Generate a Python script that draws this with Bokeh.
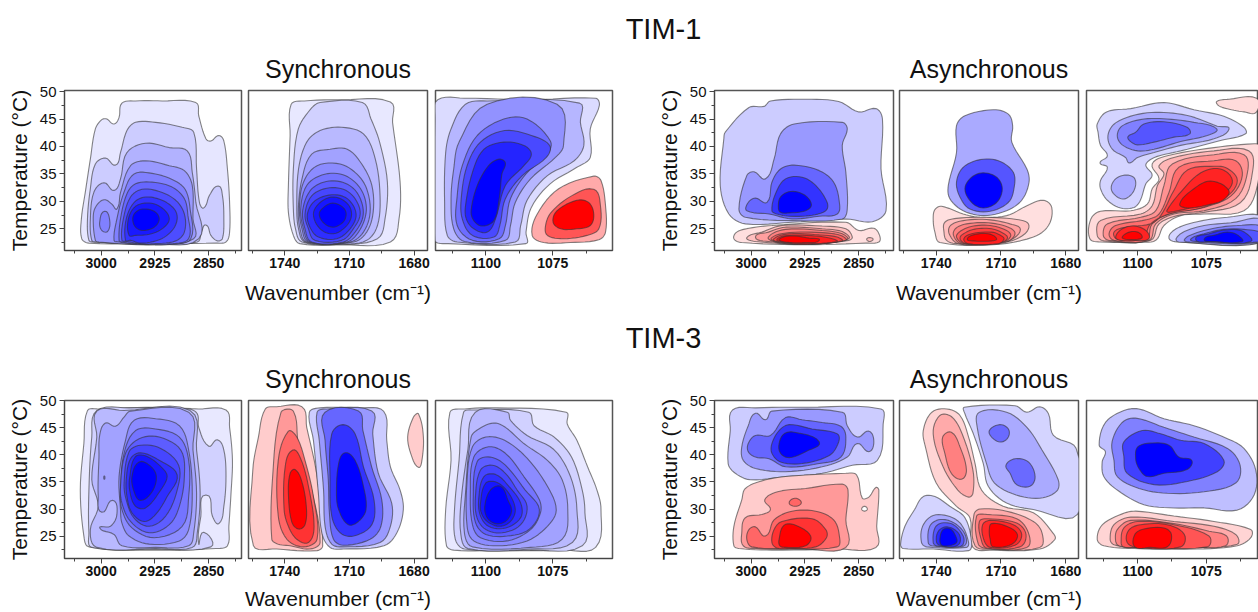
import math
from bokeh.plotting import figure
from bokeh.models import Range1d, FixedTicker, Label, ColumnDataSource
from bokeh.layouts import row, column
from bokeh.embed import file_html
from bokeh.resources import INLINE

FONT = "Liberation Sans"
titles = ["TIM-1", "TIM-3"]
subtitles = ["Synchronous", "Asynchronous"]
x_label = "Wavenumber (cm\u207b\u00b9)"
y_label = "Temperature (\u00b0C)"
ch_ticks = [3000, 2925, 2850]
ch_minor = [3037.5, 2962.5, 2887.5, 2812.5]
co_ticks = [1740, 1710, 1680]
co_minor = [1755, 1725, 1695]
po_ticks = [1100, 1075]
po_minor = [1112.5, 1087.5, 1062.5]
t_ticks = [25, 30, 35, 40, 45, 50]
t_minor = [22.5, 27.5, 32.5, 37.5, 42.5, 47.5]

# Each contour: (level, wavenumbers, temperatures). Negative level = blue, positive = red, 0 = hole.
tim1_sync_ch = [
 (-1,[3027,3027.5,3022,3015,3008,2999,2992,2982,2975,2971,2952,2915,2868,2864,2854,2847,2836,2829,2824,2821,2821,2826,2840,2924,3017],[23.2,26.8,31.7,37.7,43.2,44.9,45,44.1,45.3,47.9,48.3,48.3,48,45.6,41.4,41,42,41,35.9,29.8,24.4,22.6,22.4,22.3,22.4]),
 (-2,[3017,3019,3015,3008,2994,2980,2973,2964,2952,2924,2887,2871,2867,2863,2857,2849,2837,2831,2829,2831,2838,2847,2854,2860,2866,2924,3010],[22.9,26.8,32.3,36.8,37.9,36.6,38.9,42.9,44.4,44.4,43.5,42.6,35.9,29.8,28.8,31.1,32.8,31.1,26.8,23.2,22.8,23.8,25.7,24.4,22.6,22.2,22.6]),
 (-3,[3013,3015,3010,2996,2982,2973,2964,2938,2905,2880,2873,2868,2864,2924,3006],[22.9,26.8,31.7,33.4,32,34.1,38.9,40.6,39.8,39.2,35.3,29.8,23.2,22.2,22.6]),
 (-4,[3008,3011,3008,2996,2985,2978,2973,2959,2938,2905,2884,2873,2872,2871,2924,3003],[22.9,26.8,28.9,30.3,29.5,28.6,31.6,36.5,37.4,36.5,35.6,32.9,26.8,23.2,22.1,22.6]),
 (-5,[3002,2995,2988,2991,2999],[26.2,28.2,26.5,24.5,24.7]),
 (-5,[2982,2978,2968,2954,2929,2901,2883,2876,2875,2900,2950,2975],[22.9,26.8,31.7,35,35.1,34,32.2,28.6,23.2,22.2,22.2,22.6]),
 (-6,[2975,2973,2964,2952,2929,2901,2884,2879,2878,2900,2950,2971],[22.9,26.8,31.4,33.2,33.5,32.6,30.5,27.4,23.2,22.3,22.3,22.6]),
 (-7,[2971,2969,2959,2943,2919,2896,2884,2884,2896,2924,2945,2964],[22.9,26.8,30.8,32.2,31.8,30.2,27.7,24.4,22.8,22.3,22.3,22.7]),
 (-8,[2966,2965,2954,2938,2915,2898,2894,2901,2919,2945,2959],[22.9,26.8,29.8,30.8,30.2,28.6,26.8,24.7,23,22.4,22.9]),
 (-9,[2961,2962,2952,2933,2915,2905,2915,2933,2952],[23.8,26.8,29.1,29.7,28.8,26.8,25,24,23.8]),
 (-10,[2956,2952,2942,2926,2919,2926,2942,2952],[26.8,28,28.6,28.2,26.8,25.3,24.7,25.3]),
]
tim1_sync_co = [
 (-1,[1737,1731,1713,1691,1690,1686.5,1687,1691,1713,1733,1736,1738.3,1738.3,1737.5],[47.7,48.3,48.5,48.1,44.4,33.5,26.8,22.6,22.1,22.3,23.8,28,32.9,42]),
 (-2,[1733.7,1728,1723.6,1704,1700,1696,1692.4,1693.5,1697,1713,1732,1735,1736,1736],[43.2,46.8,48,48,45,40.8,33.5,26.8,23.2,22.2,22.6,25,28.6,35.9]),
 (-3,[1734.4,1733.6,1729.8,1723.6,1713.6,1703.5,1698,1695.8,1697,1702,1713,1730.6,1733.6],[28.6,35.9,40.8,42.9,43.5,42.3,37.7,31,25.6,22.9,22.2,22.6,25]),
 (-4,[1733.7,1732,1727.5,1719,1711,1704.3,1699.6,1699,1702,1708,1729.8,1732.9],[28.6,34.1,38.6,39.5,39.5,36.8,32.9,28,24.4,22.6,22.6,25]),
 (-5,[1733.2,1731.3,1725,1714.3,1706.6,1702,1700.4,1703.5,1709.7,1729,1732],[28.6,33.5,36.5,36.8,35,32.3,28,24.4,22.6,22.6,25]),
 (-6,[1732.6,1729.8,1722.8,1714.3,1707.4,1703.2,1702.3,1705.8,1711.2,1728.2,1731.3],[28.6,32.9,34.8,35,33.5,31,27.8,24.4,22.6,22.6,25]),
 (-7,[1731.7,1728.3,1722,1714.3,1708,1704.3,1703.8,1707.4,1712.8,1727.5,1730.6],[28.3,31.9,33.5,33.6,32.3,29.8,27.1,24.4,22.6,22.6,25]),
 (-8,[1730.6,1727.5,1720.5,1712.8,1707.4,1705,1708.2,1713.6,1726,1729],[27.7,31,32.4,32.2,30.5,27.7,25,22.9,22.9,25]),
 (-9,[1729.5,1726,1718.2,1711,1706.9,1709.7,1715.9,1724.4,1728.3],[27.7,30.1,31.2,30.5,27.7,25,23.2,23.5,25.3]),
 (-10,[1726.7,1723.6,1717.4,1711.2,1709,1711.2,1717.4,1723.6],[27.7,29.8,30.8,29.7,27.7,25.6,24.1,25]),
 (-11,[1724,1722,1717.7,1713,1711.5,1713,1717.7,1722],[27.7,28.9,29.7,28.9,27.7,26.2,25.3,26.1]),
]
tim1_sync_po = [
 (-1,[1118,1108,1083,1059,1057.6,1061,1061,1066,1076,1083,1085,1085,1114,1119,1119],[48.5,48.8,48.5,48.8,47.5,43.2,38,36.2,33.2,28.9,24.4,22.3,22.3,22.9,45]),
 (-2,[1115,1113,1107.6,1099.5,1065,1064.7,1063.4,1067,1077,1084.6,1087,1089,1110.7,1114.4,1115.4],[38.9,43.2,47.7,48.3,47.9,44.4,40.2,37.4,34.7,30.2,25.6,22.6,22.6,23.8,29.8]),
 (-3,[1112,1110,1099.5,1073.4,1071,1074,1083.3,1089,1090.8,1092.7,1108,1112,1113],[35.9,40.8,47.7,47.7,40.2,38,34.1,29.8,25.6,22.9,22.7,25,30.5]),
 (-4,[1110.7,1108.8,1103.2,1093.3,1084.6,1075.9,1077,1085,1090.8,1092.7,1095,1105,1110.7],[31,36.5,42,45,45,41,38.6,35,30.5,25.6,23.2,22.9,25.6]),
 (-5,[1109.2,1107,1102,1093,1083,1076.2,1077.4,1086.4,1092.7,1094.8,1097,1105,1108.8],[30.5,36.5,40.8,42.9,42,40.2,38,34.7,30.5,25.6,23.5,23.8,26.8]),
 (-6,[1107.6,1105,1100.7,1093.3,1085.8,1083,1085.8,1092.7,1096.4,1099.5,1104.5,1107.3],[29.2,35.3,39.5,40.8,40.2,38.6,36.5,32.9,26.8,24.4,25,26.8]),
 (-7,[1105.5,1103.2,1099,1095,1092.7,1094,1095,1097,1101.4,1104.5],[28.3,32.9,36.5,37.7,37,35,30.5,26.5,25.5,26.5]),
 (1,[1082.7,1080.8,1072.8,1059.7,1057,1055.3,1055.3,1057.8,1068.4,1078.4],[23.8,27.7,32.3,34.6,33.8,29.2,24.4,23,22.5,22.5]),
 (2,[1077.7,1075.6,1068,1059.7,1057.2,1057.8,1062.2,1071,1077],[25.6,28,31,32.2,29.2,25,23.8,23.2,23.8]),
 (3,[1074.9,1073.4,1066,1061.6,1059.7,1061,1066,1072],[26.2,28.3,30.2,29.8,27.7,25.6,25,25]),
]
tim1_async_ch = [
 (-1,[3036,3003,2982,2973,2924,2878,2850,2826,2817,2819,2812,2831,2868,2943,3008,3031,3043,3038],[42.6,47.1,47.3,48.3,48.6,48.2,46.3,46.9,45,35.9,28.3,26.3,26.8,26.2,25.9,27.7,32.9,41.4]),
 (-2,[3017,3006,2996,2980,2968,2959,2940,2873,2866,2873,2868,2866,2873,2943,3008],[28.6,34.7,35.4,34.1,37.7,42.3,44.1,44.4,43.2,40.2,35.3,28.6,26.8,26.5,27.1]),
 (-3,[3006,3004,2994,2978,2971,2959,2940,2905,2885,2877,2880,2905,2943,2975],[28.3,29.8,30.6,29.8,33.5,35.9,36.6,35.6,33.5,29.8,27.7,27.3,26.8,27.7]),
 (-4,[2971,2966,2952,2929,2910,2894,2896,2919,2947,2964],[28.3,31.4,34.1,34.4,32.9,29.8,28.3,27.4,27.3,27.7]),
 (-5,[2962,2959,2945,2926,2916,2924,2947,2959],[28.9,30.8,31.8,31.2,29.4,28.3,27.9,28]),
 (1,[3024,3020,3003,2971,2868,2850,2829,2821,2822,2840,2924,3013],[23.2,24.4,25.1,25.6,26.2,24.7,25.1,23.8,22.6,22.4,22.1,22.5]),
 (2,[2839,2835,2830,2835],[23.1,23.4,23.1,22.7]),
 (2,[3006,2985,2957,2901,2868,2859,2864,2924,2994],[23.4,24.4,25.6,25.5,25,23.5,22.9,22.2,22.7]),
 (3,[2994,2976,2952,2901,2873,2864,2924,2976],[23.5,24.4,25.3,25,24.5,23.2,22.2,22.7]),
 (4,[2976,2952,2901,2873,2866,2924,2966],[23.5,24.9,24.7,24.1,23.1,22.2,22.6]),
 (5,[2972,2947,2901,2875,2868,2924,2961],[23.3,24.3,24.3,23.8,22.9,22.2,22.6]),
 (6,[2969,2947,2905,2880,2873,2924,2959],[23.1,24.1,23.9,23.5,22.8,22.2,22.6]),
 (7,[2964,2947,2910,2887,2880,2924,2954],[23.1,23.8,23.7,23.2,22.7,22.3,22.6]),
 (8,[2961,2943,2919,2905,2924,2952],[23.1,23.7,23.3,22.9,22.5,22.6]),
]
tim1_async_co = [
 (-1,[1734.4,1730.6,1730.6,1726.7,1713.6,1706.6,1704.6,1705,1698,1697,1700.4,1707.4,1718,1727.5,1733.7],[32.9,38.9,43.8,45.6,46.7,45.9,43.8,40.8,35.9,33.5,30.2,28.3,27.4,28.3,30.5]),
 (-2,[1730.6,1727.5,1719.7,1711.2,1704.3,1704,1706.6,1715,1724.4,1729],[33.5,36.2,37.6,37.4,35.3,32.3,29.8,28.2,28.6,30.8]),
 (-3,[1726.7,1723.6,1718.2,1712,1709.4,1712,1718.2,1723.6],[32.3,34.4,35.2,34.4,32.3,29.8,28.8,29.8]),
 (1,[1741.4,1740.6,1737.5,1727.5,1719.7,1707.4,1698,1690.4,1686.5,1688,1695,1713.6,1738.3,1740.6],[26.8,28.5,29.1,27.7,27.1,27.4,29.2,30.2,28.9,25.6,23.5,22.1,22.5,24.4]),
 (2,[1736.4,1736,1730.6,1716.7,1702.7,1697.3,1698.9,1707.4,1730.6,1735.2],[24.4,26.2,26.9,27.1,26.7,25.9,24.1,22.6,22.3,22.9]),
 (3,[1734,1733.4,1727.5,1716.7,1705.8,1701,1705.8,1713.6,1729.8],[24.1,25.6,26.5,26.7,25.9,24.9,22.9,22.2,22.3]),
 (4,[1732,1730.9,1726,1715.9,1706.6,1703.5,1707.4,1728.3],[23.8,25.1,25.9,26.1,25.3,24.1,22.7,22.3]),
 (5,[1730.6,1728.3,1722.8,1715,1707.4,1705.5,1709,1726.7],[23.5,24.7,25.5,25.6,24.7,23.7,22.6,22.3]),
 (6,[1729,1726,1721.3,1714.3,1709,1707,1710.5,1726],[23.3,24.4,25,25,24.2,23.3,22.5,22.3]),
 (7,[1727.2,1723.6,1714.3,1709.7,1708.6,1711.2,1725.2],[23.2,24.1,24.4,23.7,23.1,22.3,22.3]),
 (8,[1725.6,1722.8,1715.9,1712,1714.3,1722.8],[23.1,23.9,24.1,23.2,22.8,22.8]),
]
tim1_async_po = [
 (-1,[1114.7,1111.3,1102.5,1090.4,1079.5,1068.6,1061.3,1060.7,1069.8,1084.3,1092.8,1095.9,1097,1094.7,1097,1099,1101.3,1106.2,1111,1113.5,1113.5,1111,1113.7,1111,1113.5,1114.4],[44.1,46.3,46.9,48,46.7,45.5,43.5,42.3,41.1,39.2,38.2,37.4,36.5,34.8,33.2,30.2,28.9,28.8,30.2,32.3,33.8,36.2,37,38.3,40.2,42.6]),
 (-2,[1110.8,1108,1099.5,1090.4,1080.7,1071,1066.7,1072.2,1084.3,1094,1100,1103,1104.4,1109.2],[42,44.3,45.9,46.2,45.5,43.7,43.2,41.4,40.2,38.9,38,37,38,39.5]),
 (-2,[1109.6,1108,1104,1101,1101.3,1104.4,1107.4],[32.3,34.1,34.8,34.1,32,30.5,30.8]),
 (-3,[1107.4,1105.5,1097.7,1089.2,1079.5,1071.2,1074.6,1084.3,1094,1100,1105.6],[42,43.8,45,45,44.4,43.2,42,40.9,39.5,39.2,40.3]),
 (-4,[1103.5,1100.7,1097.7,1090.4,1082,1081,1086.8,1094,1100,1102.8],[41.8,42.6,44.1,44.5,43.5,42.3,41.7,40.8,40.3,41]),
 (-1,[1088.6,1086,1078.3,1067.3,1054,1054,1085],[23.3,25,26.3,27.1,27.1,22.6,22.6]),
 (-2,[1086,1083,1075.8,1066,1054,1054,1085],[23.2,24.5,25.6,26.1,26.6,22.6,22.6]),
 (-3,[1083,1079.5,1072.2,1063.7,1054,1054,1081],[23,24.1,25.1,25.6,25.3,22.7,22.6]),
 (-4,[1080.7,1075.8,1068.6,1061.3,1054,1054,1078.3],[23.1,24.1,24.9,24.9,24.1,22.7,22.7]),
 (-5,[1078.9,1074,1068,1061.9,1058.8,1073.4],[23.1,24.1,24.8,24.6,22.7,22.7]),
 (-6,[1075.8,1071.6,1067.3,1063.7,1061.9,1072.2],[23.1,23.9,24.4,23.9,22.7,22.7]),
 (1,[1071.2,1066.7,1056.7,1056.9,1061.3,1066.7,1070.4],[48.2,48.6,48.8,46.2,46.3,46.8,47.4]),
 (1,[1117.4,1117,1113.5,1102.5,1096.5,1094.7,1092.2,1094.7,1089.2,1072.2,1057.6,1055.8,1056.4,1061.3,1075.8,1084.3,1090.4,1093.4,1098.9,1113.5],[23.2,26.8,28.2,28.3,29.5,32.3,34.1,36.8,38.3,39.8,40.5,40.2,32.9,28.3,27.7,27.4,25.6,22.9,22.6,22.6]),
 (2,[1114.7,1113.5,1098.9,1094.7,1092.8,1090.4,1092.2,1086.8,1072.2,1059.5,1058.2,1062.5,1075.8,1085.5,1092.2,1095.3,1112.3],[23.8,26.5,27.7,29.2,32.9,35,36.5,38,39.2,39.2,35.3,29.8,28,27.4,25.9,22.9,22.8]),
 (3,[1112.5,1111,1098.9,1093.4,1090.4,1087.4,1072.2,1061.3,1060,1064.3,1075.8,1086.8,1093.4,1095.9,1110.4],[23.8,25.9,27.1,28.3,32.9,36.8,38.5,38.5,35.3,30.5,28.3,27.7,25.9,22.9,22.9]),
 (4,[1110.4,1108,1096.5,1092.2,1088.6,1085,1072.2,1064.3,1061.9,1066,1075.8,1088,1094.7,1097,1108.6],[24.1,25.6,26.7,27.7,31.6,36.2,37.4,37.4,34.7,31,28.9,27.8,25.9,22.9,22.9]),
 (5,[1108.6,1104.4,1095.3,1091.6,1086.8,1081.9,1072.2,1067.3,1063.7,1067.3,1077,1088.6,1095.3,1098.3,1107.4],[24.4,25.3,25.9,27.4,32,35.7,36.4,36,33.8,31,28.8,27.7,25.9,23.2,23.1]),
 (6,[1089.4,1084.3,1077,1069.8,1065.5,1068.6,1078.3,1088.6],[28.3,31.7,35.2,35.9,33.8,31.4,29.2,28]),
 (7,[1084.7,1079.5,1073.4,1066.8,1069,1074.2,1081.4],[29.5,32.3,33.7,32,30.2,29.4,28.8]),
 (6,[1108,1105.6,1101.3,1097,1095.9,1100,1106.2],[23.5,25,25.5,24.7,23.2,22.9,22.9]),
 (7,[1105.6,1103,1100,1098.3,1100,1104.4],[23.5,24.4,24.4,23.5,23.1,23.1]),
]
tim3_sync_ch = [
 (-1,[3019,3003,2924,2864,2826,2821,2817,2819,2822,2824,2840,2924,3017,3024,3029,3024],[48.2,48.5,48.8,48.5,48.3,45.1,39,32.9,26.8,23.2,22.7,22.4,23,25,33.5,42.1]),
 (-2,[3006,2961,2878,2866,2864,2850,2838,2829,2826,2829,2836,2845,2854,2861,2864,2857,2847,2924,3013,3017,3017,3013],[48.2,48.7,48.5,47.6,45.1,41.6,42.8,40.9,36,30.5,27.3,28.7,32.6,28.7,23.5,25.7,23,22.6,22.9,25.6,33.5,43.3]),
 (-3,[3006,2968,2876,2867,2862,2866,2873,2924,3006,3015,3004,3013,3006],[48.1,48.2,48.2,40.9,32.9,25.6,22.9,22.7,22.9,26.2,30.5,35.4,43.3]),
 (-4,[3002,2982,2971,2924,2878,2871,2867,2872,2878,2959,2968,2980,2994,3002,3003,3004,2999,2984,2978,2987],[26.5,25.3,23.2,22.9,23.2,25.6,32.9,40.9,47.9,48.1,47,45.3,45.9,43.6,39.6,32.3,29.4,31.6,29,26.8]),
 (-5,[2973,2975,2966,2954,2924,2891,2878,2873,2878,2891,2933,2961,2971],[29.9,36,42.7,46.4,46.7,45.4,40.9,32.9,26.2,24.1,23.5,25,27.4]),
 (-5,[2996.3,2995.5,2994.7,2995.5],[35.8,36.1,35.8,35.5]),
 (-6,[2973,2968,2952,2924,2891,2878,2878,2887,2926,2957,2971],[33.5,40.3,44.5,44.8,43.3,39,32.3,26.8,24.7,26.5,29.9]),
 (-7,[2973,2966,2947,2919,2889,2884,2891,2905,2933,2959,2971],[34.1,40.3,43,43.3,40.9,36,30.5,27.1,25.6,27.7,31.1]),
 (-8,[2968,2961,2945,2917,2892,2894,2910,2933,2954,2965],[34.8,40.6,41.8,41.2,38.1,33.5,28.7,26.8,28.3,31.7]),
 (-9,[2965,2959,2945,2919,2894,2908,2924,2940,2957,2964],[35.4,39.3,40.4,39,36.3,32.3,29,27.7,29.3,32.3]),
 (-10,[2960,2952,2936,2915,2908,2917,2938,2952,2960],[36,39.7,39.7,37.6,36,33.5,30.2,30.5,33.3]),
 (-11,[2957,2947,2931,2923,2929,2945,2954],[36,38.7,37.9,36,33.2,31.6,33.2]),
]
tim3_sync_co = [
 (1,[1754.5,1754.8,1752.2,1749,1743.7,1732,1729.8,1725,1722.4,1725,1743.7],[23.2,37.2,43.3,48.5,48.9,48.9,45.1,36,23.2,22.3,22.6]),
 (2,[1746,1745.6,1741.7,1736,1733.7,1727.5,1723.6,1728.3,1737.5,1743],[24.4,36,47.9,48.1,42.1,33.5,23.8,22.6,23.2,23.5]),
 (3,[1743,1743,1738.3,1734.4,1730.6,1726.7,1725,1731.3,1739],[28.7,39,44.4,43.3,39,32.3,24.4,23,24.4]),
 (4,[1740.3,1739.8,1736.3,1732.6,1729,1726.4,1729,1734.4,1738.3],[29.9,37.8,40.9,39.3,34.2,26.8,23.8,24.4,26.8]),
 (5,[1738.3,1737.5,1735.2,1732.1,1730,1730.6,1733.7,1736.8],[32.9,36.6,37.3,35.1,30.5,27.1,26.3,27.7]),
 (-1,[1728.6,1723.6,1705,1694.2,1692.7,1691,1686.5,1685,1688,1694,1712.8,1719,1722.8,1724.4,1726.7],[47.9,48.7,48.7,48.1,42.7,37.8,33.5,29.9,25.6,23.2,22.6,22.9,25.6,32.9,42.7]),
 (-2,[1725,1720.5,1699.6,1699.2,1696.6,1690.4,1691,1695.8,1712.8,1718.2,1721.3,1722,1724],[47.9,48.5,48.1,43.9,36.6,31.1,26.8,23.8,23,23.5,26.8,33.5,42.7]),
 (-3,[1721.3,1705.8,1703.8,1699.7,1695,1695.4,1700.4,1712.8,1717.4,1719.3,1719.8,1721.3],[47.9,48.1,44.6,37.8,31.7,26.8,24.4,23.3,24.4,29.3,35.4,42.7]),
 (-4,[1719,1718.2,1713,1707.4,1703.5,1698.6,1699.6,1708,1714.3,1718.2],[35.4,43.9,45.6,43.9,37.8,31.7,27.1,25,25.6,28.7]),
 (-5,[1716,1715,1712,1707.4,1703.5,1702.3,1705.8,1710.5,1715],[32.9,38.4,40.4,39,34.2,29.9,27.7,27.1,29.9]),
 (1,[1683,1680.3,1678,1675.7,1676.5,1678,1681],[43.3,47,47.6,43.3,38.7,37.7,39.6]),
]
tim3_sync_po = [
 (-1,[1113.4,1108,1096,1070,1069.6,1066,1062,1058.5,1057,1059,1071,1096,1112,1114.7,1115,1113],[47.9,48.5,48.7,47.9,45.7,42.7,37.8,33.5,29.9,22.9,22.4,22.3,22.4,23.2,29.9,39]),
 (-2,[1108.3,1104.5,1084,1082,1074.5,1068,1064,1063,1064,1083,1108,1111.4,1111.7,1110],[47.9,48.3,47.9,45.4,43.3,39.6,33.5,29.3,23.2,22.4,22.6,24.4,29.9,39]),
 (-3,[1103.9,1092,1090.8,1084.6,1074.6,1068.4,1066,1067.7,1083.3,1106.7,1109.4,1109.2,1106.7],[47.9,47.9,46.4,43.6,41,36,29.9,23.8,22.6,22.7,25.6,31.7,41]),
 (-4,[1105.5,1102.6,1097,1092.7,1085.8,1077,1071.5,1069.4,1071.5,1083.3,1105,1108,1107.6],[43.3,44.8,45.9,45.1,42.1,39,35.4,29.9,24.4,22.9,23,25.6,32.9]),
 (-5,[1107,1105,1100,1093,1084.6,1077,1073.7,1077,1084.6,1095.8,1104.5,1107],[35.4,41.5,43.3,42.7,39.4,34.2,29.8,26.8,24.1,23.2,24.1,26.8]),
 (-6,[1105.8,1104.5,1099,1092.7,1085.8,1080,1079.6,1083.3,1092,1102,1105],[32.9,39.6,41.5,40.3,36,31.7,29.3,26.2,24.1,24.7,27.1]),
 (-7,[1104.7,1103.2,1098.3,1092.7,1085.3,1080,1083.9,1092,1100,1103.8],[32.2,38.8,39.6,38.1,33.5,29.9,26.2,25,25.3,27.4]),
 (-8,[1103.9,1102,1097.6,1092.7,1088.3,1084.6,1087,1093.9,1100,1103.3],[32.2,37.2,38.1,36.6,33.5,30.5,27.1,25.6,26.2,28.4]),
 (-9,[1102.6,1100.7,1096.4,1091.4,1087,1087,1092.6,1099,1102.2],[32.2,36,36.4,34.2,31.1,28.4,26.5,26.8,29]),
 (-10,[1102,1100,1095.8,1091.4,1089,1090.8,1095,1099.5,1101.7],[31.1,34.8,34.9,32.9,29.9,27.7,26.8,27.7,29.3]),
 (-11,[1100.4,1098.3,1094.5,1091.8,1090.4,1092.7,1096.4,1099.5],[30.5,33.5,34.2,31.7,29.6,27.7,27.3,28.4]),
]
tim3_async_ch = [
 (-1,[3026,2994,2924,2819,2816,2824,2859,2901,2952,3001,3022,3032,3029],[48.3,48.7,48.8,48.5,45.7,39,38.1,36.6,36,35.4,36.6,38.4,44.5]),
 (-2,[3013,3004,2994,2980,2971,2873,2866,2852,2836,2829,2836,2852,2866,2901,2952,2994,3011],[41.5,45.4,47.7,46.5,48.1,47.9,45.4,43.3,44.4,42.4,40.6,42.1,39.6,37.8,36.9,37.5,39]),
 (-3,[3004,2994,2973,2952,2929,2901,2875,2868,2875,2905,2952,2975,2994,3004],[42.1,43.6,43.6,46.9,46.5,46,45.3,43.3,39.6,38.4,37.8,39.3,39.6,40.6]),
 (-4,[2971,2961,2947,2915,2880,2878,2891,2929,2959,2971],[42.1,44.5,45.6,44.8,43.9,42.4,39.9,38.4,38.7,40.3]),
 (-5,[2961,2954,2940,2905,2924,2947,2959],[42.1,43.9,44.2,42.4,40.6,39.5,40.3]),
 (1,[3024,3024,3013,3008,2985,2952,2868,2853,2845,2836,2826,2822,2825,2826,2878,2971,3017],[23.2,26.8,31.7,33.8,35.2,36,36.6,36.3,32,32.2,34,33.5,26.8,22.9,22.6,22.4,22.7]),
 (0,[2846,2842,2838,2842],[30,30.5,30,29.6]),
 (2,[3013,3008,2985,2973,2981,2963,2924,2873,2865,2868,2868,2924,2994,3011],[25.6,28.4,29,29.9,31.7,33.2,33.8,34.6,33.5,28,22.9,22.6,22.7,23.2]),
 (3,[2947,2939,2930,2938],[31.1,32,31.2,30.5]),
 (3,[3006,3003,2994,2980,2968,2943,2910,2885,2877,2880,2947,2999],[24.4,26.2,26.7,25,28,29.6,29.6,28,25,23,22.7,23]),
 (4,[2971,2968,2957,2915,2896,2895,2910,2947,2964],[23.8,26.2,27.7,28.2,26.2,24.7,23,22.7,22.8]),
 (5,[2961,2954,2938,2917,2924,2952,2960],[24.4,27,27,25,23.2,22.9,23.2]),
]
tim3_async_co = [
 (1,[1746,1742,1735,1729,1725,1722,1719,1709,1695,1686,1685,1692,1713.6,1723,1724.4,1730.6,1740,1745],[44.5,47.9,48.5,47.3,43.3,38.4,33.5,30.5,29.3,25.6,24.4,22.6,22.4,22.9,28.4,30.5,34.8,41.5]),
 (2,[1741.4,1738.3,1733,1728,1723,1723,1725,1730,1736.8],[43.9,47.3,47.1,43.9,37.2,32.9,32.2,33.5,37.8]),
 (3,[1737,1733,1729,1726,1728.3,1733,1736],[43.3,44.2,41.5,37.2,35.5,36.6,40.3]),
 (2,[1722.5,1719.7,1707.4,1695,1691,1692,1713.6,1722],[29,30,29.6,27.7,25.6,22.9,22.6,23.2]),
 (3,[1721.3,1716.7,1702.7,1697.3,1698,1716.7,1720.5],[28.7,29,28.2,25.6,22.9,22.7,23.5]),
 (4,[1720,1716,1702.7,1698.4,1701.2,1716.7,1719],[27.7,28.2,27.4,25.3,23,22.8,24.1]),
 (5,[1718.5,1715,1704.3,1700.4,1703.5,1715,1718],[27.1,27.9,27.1,25.3,23.3,22.9,24.4]),
 (6,[1715.4,1714.3,1707.4,1702.4,1705,1713.6,1715],[26.2,27.3,26.8,25.3,23.5,23,24.4]),
 (-1,[1756.5,1754.5,1750,1746,1740.6,1733.7,1726.7,1723.6,1725,1741.4,1755.3],[23.5,26.8,29.9,32.3,32.3,30.5,28.4,23.8,22.3,22.6,22.7]),
 (-2,[1746.8,1746.3,1741.4,1733.7,1728.3,1725,1726,1744.4],[23.8,26.8,28.8,28.6,27.1,23.8,22.9,23]),
 (-3,[1743.7,1743,1739,1733,1727.5,1726,1728.3,1742],[23.8,26.8,28,27.7,25.9,23.8,23,23.2]),
 (-4,[1741.4,1740.6,1737.5,1732,1727.5,1727.5,1729.8,1739.8],[23.8,26.5,27.4,27.1,25,23.5,23,23.2]),
 (-5,[1739.8,1739,1735,1729.8,1729,1732,1737.5],[23.8,25.9,26.7,25.6,23.8,23,23.2]),
 (-6,[1738.3,1736.8,1733.4,1731,1730.6,1734.4,1737.5],[24.4,26.2,26.3,25,23.8,23.2,23.3]),
 (-1,[1727,1703.5,1698,1692,1688,1685.7,1675.2,1674.6,1695,1707.4,1715.9,1718.2,1722.8,1726.7],[48.8,49.1,47.9,48.9,47.6,43.6,41.2,29,29.9,31.1,34.2,38.4,43.9,47.6]),
 (-2,[1720,1707.4,1698,1691,1683.5,1684.2,1692,1703,1713,1716.7,1721],[47.9,47.9,45.1,40.9,35.4,33.3,32,32.6,34.8,38.4,45.1]),
 (-3.5,[1715.4,1710.5,1706.6,1706.6,1709.7,1713.6],[44.5,45.6,44.8,43.3,42.4,43]),
 (-3.5,[1707.7,1703.5,1697.3,1694.2,1696.6,1702.7,1705.8],[38.1,39.3,38.7,36,34.2,34.5,36.6]),
]
tim3_async_po = [
 (-1,[1114,1111.7,1105,1099.5,1090.4,1079.5,1067.3,1061.3,1057,1057.6,1063.7,1075.8,1086.8,1097.7,1107.4,1112.3,1112.9,1111.7],[41.8,46,48.2,48.5,46.7,45.4,43,41.2,37.2,32.6,29.8,30.2,30.2,30.8,33.5,36,38.7,40.6]),
 (-2,[1109.3,1105.6,1100.7,1090.4,1079.5,1067.3,1062.7,1064.3,1075.8,1089.2,1099.5,1107.4,1108.6],[42.4,46,46.8,45.1,43.3,41.2,38.1,34.8,33.2,32.9,33.8,36,39]),
 (-3,[1105,1098.3,1091.6,1084.3,1075.8,1068.6,1071,1081.9,1094,1103.8,1105],[42.4,44.5,43.9,42.7,42.1,39,36.9,35.1,34.5,36.6,39.7]),
 (-4,[1099.9,1094.7,1088.6,1085,1080.3,1082,1090.4,1096.5,1099.5,1100.7],[41.5,42.2,41.8,39.6,39,37.3,36.6,36,37.5,39.3]),
 (1,[1114.7,1112.8,1105.6,1100.7,1086.8,1072.2,1058.8,1058.8,1063.7,1078.3,1101.3,1112.3],[24.4,27.1,29.1,29.6,28.7,27.7,26.2,24.7,23.2,22.6,22.7,23.2]),
 (2,[1110,1108.6,1102.5,1086.8,1072.2,1064.3,1063.7,1078.3,1101.3,1108.6],[24.4,27.1,28.5,27.7,26.8,25.3,23.5,22.9,22.9,23.4]),
 (3,[1108,1107.4,1102.5,1086.8,1074,1067.6,1068,1078.3,1101.3,1106.8],[24.1,26.2,27.9,27.3,25.9,25,23.2,22.9,22.9,23.2]),
 (4,[1106,1105,1100,1086.8,1074,1074.6,1100.7,1105.2],[23.8,26.5,27.7,27.1,25,23,22.9,23]),
 (5,[1103.8,1103.2,1098.9,1089.2,1083,1084.3,1100],[23.8,26.1,27.1,27.1,25.3,23,22.9]),
 (6,[1101,1101,1097.7,1090.4,1087.7,1089.2,1095.4],[23,25.3,26.3,26.5,25.3,23,22.9]),
]
# number of colour steps (blue, red) in each map
steps = {"a": (10, 1), "b": (11, 1), "c": (7, 3), "d": (5, 8), "e": (3, 8), "f": (6, 7),
         "g": (11, 1), "h": (5, 5), "i": (11, 1), "j": (5, 5), "k": (6, 6), "l": (4, 6)}


def shade(level, n_blue, n_red):
    if level == 0:
        return "#ffffff"
    f = abs(level) / (n_blue if level < 0 else n_red)
    c = round(255 * (1 - f))
    return f"#{c:02x}{c:02x}ff" if level < 0 else f"#ff{c:02x}{c:02x}"


def smooth(xs, ys, xr, yr, n=6):
    """Draw the closed outline through the read vertices as a curve, as contour software does."""
    sx, sy = abs(xr[1] - xr[0]), abs(yr[1] - yr[0])
    pts = [(x / sx, y / sy) for x, y in zip(xs, ys)]
    m = len(pts)
    tang = []
    for i in range(m):
        a, b = pts[i - 1], pts[(i + 1) % m]
        dx, dy = b[0] - a[0], b[1] - a[1]
        d = math.hypot(dx, dy) or 1
        tang.append((dx / d, dy / d))
    ox, oy = [], []
    for i in range(m):
        p0, p3 = pts[i], pts[(i + 1) % m]
        L = math.hypot(p3[0] - p0[0], p3[1] - p0[1]) / 3
        p1 = (p0[0] + tang[i][0] * L, p0[1] + tang[i][1] * L)
        t3 = tang[(i + 1) % m]
        p2 = (p3[0] - t3[0] * L, p3[1] - t3[1] * L)
        for k in range(n):
            t = k / n
            u = 1 - t
            ox.append((u**3 * p0[0] + 3*u*u*t * p1[0] + 3*u*t*t * p2[0] + t**3 * p3[0]) * sx)
            oy.append((u**3 * p0[1] + 3*u*u*t * p1[1] + 3*u*t*t * p2[1] + t**3 * p3[1]) * sy)
    return ox, oy


def panel(contours, key, xr, yr, ticks, minor, width, left, right, top, frame_h, bottom,
          has_y=False, title=None, has_xlabel=False, xstand=10):
    p = figure(width=width, height=top + frame_h + bottom, output_backend="svg", toolbar_location=None,
               x_range=Range1d(*xr), y_range=Range1d(*yr), y_axis_location="left" if has_y else None,
               min_border_left=left, min_border_right=right, min_border_top=top, min_border_bottom=bottom,
               title=title)
    n_b, n_r = steps[key]
    curves = [smooth(c[1], c[2], xr, yr) for c in contours]
    src = ColumnDataSource(dict(xs=[c[0] for c in curves], ys=[c[1] for c in curves],
                                col=[shade(c[0], n_b, n_r) for c in contours]))
    p.patches("xs", "ys", source=src, fill_color="col", line_color="#333333", line_alpha=0.6, line_width=1.1)
    p.grid.visible = False
    p.outline_line_color = "#555555"
    p.outline_line_width = 1.5
    p.background_fill_color = "#ffffff"
    ax = p.xaxis[0]
    ax.ticker = FixedTicker(ticks=ticks, minor_ticks=minor)
    ax.major_label_text_font = FONT
    ax.major_label_text_font_size = "14px"
    ax.major_label_text_font_style = "bold"
    ax.major_label_text_color = "#111111"
    ax.major_label_standoff = 2
    ax.axis_line_color = "#444444"
    ax.major_tick_line_color = "#444444"
    ax.minor_tick_line_color = "#444444"
    ax.major_tick_out = 5
    ax.major_tick_in = 0
    ax.minor_tick_out = 3
    ax.minor_tick_in = 0
    if has_xlabel:
        ax.axis_label = x_label
        ax.axis_label_text_font = FONT
        ax.axis_label_text_font_size = "21px"
        ax.axis_label_text_font_style = "normal"
        ax.axis_label_text_color = "#111111"
        ax.axis_label_standoff = xstand
    if has_y:
        ay = p.yaxis[0]
        ay.ticker = FixedTicker(ticks=t_ticks, minor_ticks=t_minor)
        ay.major_label_text_font = FONT
        ay.major_label_text_font_size = "15px"
        ay.major_label_text_color = "#111111"
        ay.major_label_standoff = 3
        ay.axis_line_color = "#444444"
        ay.major_tick_line_color = "#444444"
        ay.minor_tick_line_color = "#444444"
        ay.major_tick_out = 5
        ay.major_tick_in = 0
        ay.minor_tick_out = 3
        ay.minor_tick_in = 0
        ay.axis_label = y_label
        ay.axis_label_text_font = FONT
        ay.axis_label_text_font_size = "21px"
        ay.axis_label_text_font_style = "normal"
        ay.axis_label_text_color = "#111111"
        ay.axis_label_standoff = 6
    if title:
        p.title.text_font = FONT
        p.title.text_font_size = "25px"
        p.title.text_font_style = "normal"
        p.title.text_color = "#111111"
        p.title.align = "center"
        p.title.standoff = 15
    return p


def header(text, h, from_top):
    p = figure(width=1258, height=h, output_backend="svg", toolbar_location=None,
               x_range=Range1d(0, 1258), y_range=Range1d(0, h), x_axis_location=None, y_axis_location=None,
               min_border=0)
    p.grid.visible = False
    p.outline_line_color = None
    p.add_layout(Label(x=663, y=h - from_top, x_units="screen", y_units="screen", text=text,
                       text_font=FONT, text_font_size="29px", text_color="#111111",
                       text_align="center", text_baseline="middle"))
    return p


def make_row(maps, keys, yr, top, fh, bottom, xstand):
    a = panel(maps[0], keys[0], (3051, 2804.4), yr, ch_ticks, ch_minor, 244, 64, 3, top, fh, bottom, has_y=True)
    b = panel(maps[1], keys[1], (1756.8, 1673.8), yr, co_ticks, co_minor, 187, 4, 4, top, fh, bottom,
              title=subtitles[0], has_xlabel=True, xstand=xstand)
    c = panel(maps[2], keys[2], (1118.8, 1052.7), yr, po_ticks, po_minor, 223, 4, 42, top, fh, bottom)
    d = panel(maps[3], keys[3], (3051, 2801.6), yr, ch_ticks, ch_minor, 242, 60, 3, top, fh, bottom, has_y=True)
    e = panel(maps[4], keys[4], (1757, 1674.1), yr, co_ticks, co_minor, 186, 3, 4, top, fh, bottom,
              title=subtitles[1], has_xlabel=True, xstand=xstand)
    f = panel(maps[5], keys[5], (1118.6, 1056), yr, po_ticks, po_minor, 176, 4, 0, top, fh, bottom)
    return row([a, b, c, d, e, f], spacing=0)


row1 = make_row([tim1_sync_ch, tim1_sync_co, tim1_sync_po, tim1_async_ch, tim1_async_co, tim1_async_po],
                "abcdef", (21.05, 50.2), 46, 160, 58, 10)
row2 = make_row([tim3_sync_ch, tim3_sync_co, tim3_sync_po, tim3_async_ch, tim3_async_co, tim3_async_po],
                "ghijkl", (20.85, 50.06), 47, 159, 53, 8)
root = column([header(titles[0], 44, 28), row1, header(titles[1], 45, 29), row2], spacing=0)
open("out.html", "w").write(file_html(root, INLINE))
